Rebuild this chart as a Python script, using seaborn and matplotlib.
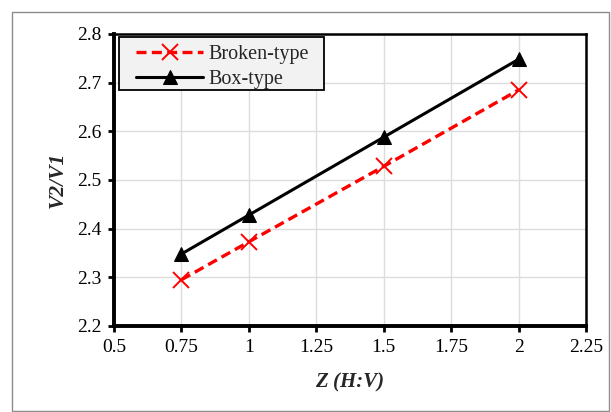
import matplotlib
matplotlib.use("Agg")
import matplotlib.pyplot as plt
import seaborn as sns
import pandas as pd
from matplotlib.patches import Rectangle
from matplotlib.transforms import IdentityTransform

# Side-slope ratio Z (H:V) and velocity ratio V2/V1 for each section type
z_values = [0.75, 1.0, 1.5, 2.0]
broken_type = [2.295, 2.373, 2.528, 2.685]
box_type = [2.348, 2.428, 2.588, 2.748]

x_ticks = [0.5, 0.75, 1, 1.25, 1.5, 1.75, 2, 2.25]
x_tick_labels = ["0.5", "0.75", "1", "1.25", "1.5", "1.75", "2", "2.25"]
y_ticks = [2.2, 2.3, 2.4, 2.5, 2.6, 2.7, 2.8]
y_tick_labels = ["2.2", "2.3", "2.4", "2.5", "2.6", "2.7", "2.8"]

df = pd.DataFrame({
    "Z": z_values * 2,
    "ratio": broken_type + box_type,
    "type": ["Broken-type"] * len(z_values) + ["Box-type"] * len(z_values),
})

sns.set_theme(style="white")
plt.rcParams["font.family"] = ["Liberation Serif", "DejaVu Serif"]

fig = plt.figure(figsize=(6.11, 4.12), dpi=100)
fig.patches.append(Rectangle((12 / 611, 1.5 / 412), 597 / 611, 399 / 412,
                             transform=fig.transFigure, fill=False,
                             edgecolor="#8c8c8c", linewidth=1.0))
ax = fig.add_axes([114 / 611, 1 - 326 / 412, 472 / 611, 292 / 412])

sns.lineplot(data=df[df["type"] == "Broken-type"], x="Z", y="ratio", ax=ax,
             color="#ff0000", linestyle=(0, (3, 1.6)), linewidth=2.4,
             marker="x", markersize=12, markeredgewidth=1.4,
             markeredgecolor="#ff0000", label="Broken-type")
sns.lineplot(data=df[df["type"] == "Box-type"], x="Z", y="ratio", ax=ax,
             color="black", linewidth=2.2, marker="^", markersize=9.5,
             markeredgecolor="black", label="Box-type")

ax.set_xlim(0.5, 2.25)
ax.set_ylim(2.2, 2.8)
ax.set_xticks(x_ticks)
ax.set_xticklabels(x_tick_labels)
ax.set_yticks(y_ticks)
ax.set_yticklabels(y_tick_labels)
ax.grid(True, color="#dcdcdc", linewidth=1.0)
ax.set_axisbelow(True)

for side in ["left", "bottom"]:
    ax.spines[side].set_linewidth(2.8)
    ax.spines[side].set_color("black")
for side in ["top", "right"]:
    ax.spines[side].set_linewidth(1.8)
    ax.spines[side].set_color("black")

ax.tick_params(axis="both", which="major", direction="out", length=4,
               width=2, color="black", labelsize=14, labelcolor="black",
               left=True, bottom=True, pad=5)

ax.set_xlabel("Z (H:V)", fontsize=15, fontweight="bold", fontstyle="italic",
              labelpad=12)
ax.set_ylabel("V2/V1", fontsize=15.5, fontweight="bold", fontstyle="italic",
              labelpad=7)

# Legend entries without their own frame; a boxed background with wider
# side margins is drawn behind them once the layout is known.
leg = ax.legend(loc="upper left", bbox_to_anchor=(0.043, 0.971), fontsize=14.5,
                frameon=False, borderpad=0.1, handlelength=3.3,
                handletextpad=0.3, labelspacing=0.3, borderaxespad=0.0)
leg.set_zorder(6)

fig.canvas.draw()
bb = leg.get_window_extent()
box = Rectangle((bb.x0 - 15, bb.y0 + 1), bb.width + 28, bb.height + 4,
                transform=IdentityTransform(), facecolor="#f2f2f2",
                edgecolor="black", linewidth=1.3, zorder=5)
ax.add_artist(box)

fig.savefig("out.png", dpi=100)
